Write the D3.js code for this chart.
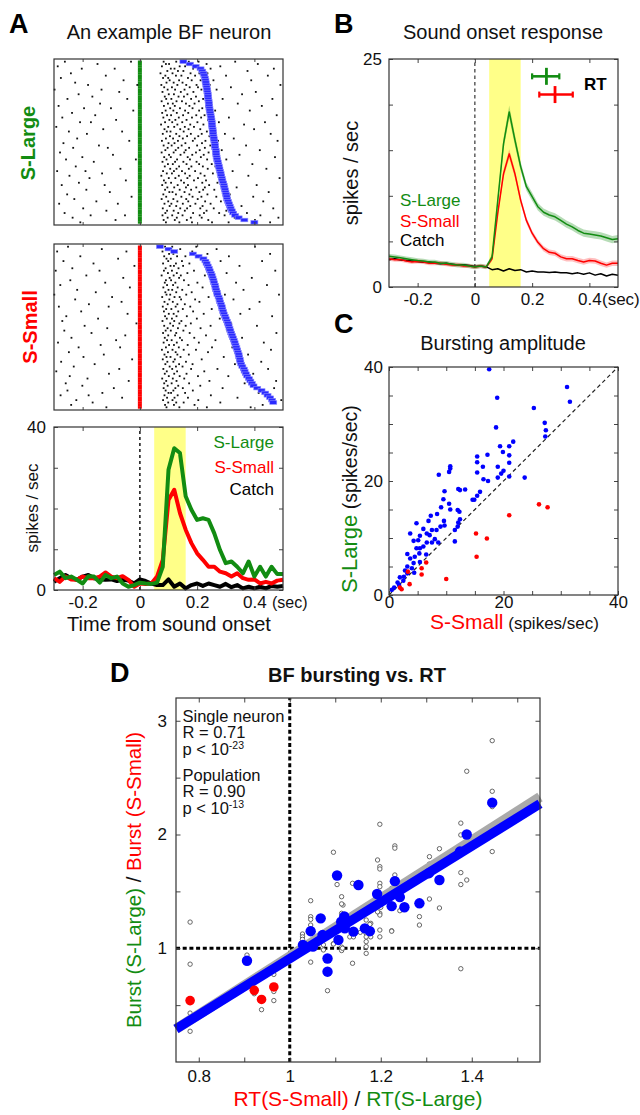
<!DOCTYPE html>
<html><head><meta charset="utf-8">
<script src="https://cdn.jsdelivr.net/npm/d3@7"></script>
<style>body{margin:0;background:#fff}svg{display:block}</style>
</head><body>
<svg id="c" width="640" height="1115"></svg>
<script>
// ---------------- DATA ----------------
const timeBins = [-0.3,-0.28,-0.26,-0.24,-0.22,-0.2,-0.18,-0.16,-0.14,-0.12,-0.1,-0.08,-0.06,-0.04,-0.02,0,0.02,0.04,0.06,0.08,0.1,0.12,0.14,0.16,0.18,0.2,0.22,0.24,0.26,0.28,0.3,0.32,0.34,0.36,0.38,0.4,0.42,0.44,0.46,0.48,0.5];
// Panel A PSTH (spikes/sec)
const psthA_large = [3.7,4.5,2.9,3.3,2.5,1.6,3.4,3.3,1.8,3.7,2.9,3.3,1.6,0.8,1.2,1.8,1.6,1.5,1.8,5.7,29.5,34.8,33.6,23,19.7,17.2,17.6,17.2,13.9,9.8,6.6,7.0,5.7,4.1,7.0,3.3,5.7,3.3,5.7,3.9,3.9];
const psthA_small = [2.9,2.0,3.3,2.6,2.5,3.3,2.9,2.9,3.3,4.3,3.3,2.9,3.4,2.5,0.8,1.6,1.5,1.6,3.3,7.4,22.1,24.6,18.9,14.8,11.5,9.0,7.4,5.7,5.7,4.5,4.1,3.3,4.1,2.9,2.5,2.6,1.6,2.0,1.6,2.3,2.5];
const psthA_catch = [2.0,2.9,3.7,2.9,2.5,3.3,3.7,2.9,2.6,2.5,2.6,2.2,2.5,2.3,1.6,2.6,2.2,1.6,1.2,1.2,2.6,0.8,1.6,0.4,1.2,1.6,1.0,1.6,1.2,0.8,1.5,0.7,1.2,0.4,0.8,0.4,0.8,0.4,1.0,0.8,1.0];
// Panel B population PSTH (spikes/sec) and SEM
const psthB_large = [3.37,3.3,3.2,3.1,3.0,2.9,2.85,2.75,2.75,2.6,2.6,2.5,2.4,2.4,2.3,2.2,2.3,2.2,3.3,9.5,15.7,19.2,16.1,13.2,11.0,9.9,8.8,8.2,7.9,7.7,7.3,6.9,6.6,6.2,5.9,5.8,5.7,5.6,5.4,5.2,5.3];
const psthB_small = [3.1,3.0,3.0,2.85,2.75,2.8,2.75,2.6,2.6,2.6,2.5,2.4,2.45,2.3,2.3,2.2,2.3,2.2,3.1,8.1,12.4,14.6,12.4,9.5,7.3,5.9,4.9,4.2,3.8,3.7,3.3,3.1,3.1,2.9,2.75,2.9,2.85,2.6,2.4,2.6,2.6];
const psthB_catch = [3.0,3.1,2.95,2.9,2.85,2.8,2.7,2.75,2.6,2.55,2.6,2.5,2.4,2.45,2.35,2.25,2.3,2.2,1.9,2.0,1.75,2.0,1.8,1.9,1.65,1.75,1.65,1.65,1.6,1.65,1.55,1.55,1.45,1.55,1.4,1.55,1.3,1.45,1.2,1.4,1.3];
const semB_large = [0.25,0.25,0.25,0.25,0.25,0.25,0.25,0.25,0.25,0.25,0.25,0.25,0.25,0.25,0.25,0.25,0.25,0.25,0.3,0.45,0.6,0.7,0.6,0.5,0.45,0.45,0.4,0.4,0.4,0.4,0.4,0.4,0.4,0.4,0.4,0.4,0.4,0.4,0.4,0.4,0.4];
const semB_small = [0.22,0.22,0.22,0.22,0.22,0.22,0.22,0.22,0.22,0.22,0.22,0.22,0.22,0.22,0.22,0.22,0.22,0.22,0.25,0.35,0.45,0.5,0.45,0.4,0.35,0.3,0.3,0.3,0.3,0.3,0.3,0.3,0.3,0.3,0.3,0.3,0.3,0.3,0.3,0.3,0.3];
// RT error bars in panel B (sec), drawn at a fixed height (spikes/sec units)
const rtNames = ["S-Large","S-Small"];
const rtMean = [0.25, 0.28];
const rtLo = [0.20, 0.225];
const rtHi = [0.295, 0.342];
const rtRow = [23.1, 21.1];
// Raster: spike times (ms) per trial, and sorted RT (sec)
const spikesLarge = [
[-262,-31,83,127,171,205,333],[-148,91,102,164,233,412],[-287,77,139,158,199,281],[-203,-88,108,121,186,247,468],
[96,133,152,219,376],[-241,72,114,177,208,236],[-119,89,126,145,193,301,447],[-276,81,99,168,224],
[-57,104,137,181,212,257,389],[-226,93,118,149,230],[-181,-9,75,131,162,198,244,491],[85,112,174,203,318],
[-298,-134,97,123,156,215,268],[-72,79,143,187,228,405],[-214,101,119,166,239,357],[-166,87,135,154,196],
[-253,-44,92,110,179,221,289,463],[76,128,147,206,249],[-139,98,115,161,191,342],[-284,84,122,173,232,426],
[-195,-101,106,140,184,218],[-23,90,117,158,207,263,384],[-237,78,129,169,245],[-156,95,109,151,197,226,478],
[-271,82,136,182,214,311],[-83,103,124,163,238],[-209,-171,88,113,148,201,276,437],[74,131,176,222,364],
[-292,99,120,157,189,252],[-128,86,141,170,211,399],[-248,-62,94,107,153,234],[-185,80,127,178,216,297,457],
[105,138,165,204,243],[-219,91,116,150,192,328],[-37,77,133,185,229,273,481],[-267,100,121,159,217],
[-143,83,111,146,200,246,371],[-233,-112,97,134,172,227],[89,125,160,209,286,419],[-279,76,118,155,196,240],
[-94,102,142,183,223,348],[-201,85,108,167,213,472],[-258,-14,93,130,175,235,302],[-161,79,123,152,198],
[98,115,163,207,251,393],[-224,87,137,180,220,264],[-68,106,128,171,237,442],[-289,-190,81,119,147,193,324],
[-132,94,112,158,212,255],[-246,75,136,174,226,379],[-176,101,124,166,203,292,488],[-49,84,144,189,231],
[-213,90,109,154,218,271],[-273,-123,78,132,168,242,408],[96,120,161,197,227,338],[-187,88,139,179,221,260],
[-105,103,114,156,208,450],[-254,82,126,173,236,314],[-29,92,145,184,215,267,396],[-229,76,117,162,202],
[-152,99,131,169,228,283,431],[-282,-77,86,110,150,194,247],[104,127,176,219,355],[-198,80,141,165,211,258,466],
[-117,95,118,157,233,302],[-263,89,134,186,224,277,374],[-172,-52,79,113,149,209,296,421],[-235,97,129,178,216,331,484],
[-85,83,122,164,239,361,402],[-208,91,138,182,252,310,455]];
const rtLarge = [0.152,0.175,0.195,0.212,0.218,0.222,0.225,0.227,0.229,0.23,0.232,0.233,0.235,0.236,0.237,0.238,0.239,0.24,0.241,0.242,0.243,0.244,0.246,0.247,0.249,0.25,0.251,0.252,0.253,0.254,0.255,0.256,0.257,0.258,0.26,0.261,0.262,0.263,0.265,0.266,0.267,0.268,0.27,0.272,0.274,0.276,0.278,0.28,0.282,0.284,0.286,0.288,0.291,0.293,0.295,0.297,0.299,0.301,0.303,0.305,0.308,0.311,0.314,0.317,0.321,0.326,0.333,0.345,0.365,0.40];
const spikesSmall = [
[-251,88,113,197,402],[-133,96,141,268],[-289,-47,79,122,183],[102,117,236,455],[-208,85,130,159,311],
[-76,93,108,214],[-267,99,147,282,427],[-162,81,126,173],[-19,107,119,151,348],[-236,90,135,245],
[-294,-141,84,112,189,473],[98,129,166,303],[-187,76,118,143,227],[-58,104,137,258,391],[-243,91,109,154],
[-121,87,124,201,336],[-278,95,116,170,444],[-35,82,132,219],[-219,100,113,148,275,362],[-154,89,127,181],
[-299,93,106,162,297,486],[-97,78,121,139,240],[-226,103,144,193,327],[-64,86,115,208,418],[-178,97,131,157],
[-283,-109,80,125,176,288],[92,110,150,251,383],[-205,84,134,186],[-43,101,118,223,351],[-257,88,128,164,462],
[-146,94,112,199,279],[-271,79,120,145],[-12,106,138,178,319],[-193,85,116,160,247,409],[-114,97,133,212],
[-264,90,108,152,306],[-169,81,127,174,477],[-51,99,123,231],[-239,87,140,190,357],[-83,95,111,147,264],
[-286,83,129,206,433],[-137,102,119,167],[-214,-69,91,136,252,323],[77,114,153,196,458],[-248,98,125,238],
[-126,86,131,171,378],[-197,93,107,142,293],[-27,80,122,216],[-275,96,117,161,424],[-158,89,137,184,332],
[-231,104,126,149],[-72,82,113,179,271,448],[-292,94,130,225],[-108,87,120,163,396],[-245,101,139,203,309],
[-183,78,115,155],[-39,92,128,243,476],[-259,85,111,172,366],[-201,97,134,211],[-91,83,124,150,289,469],
[-253,90,117,185],[-131,100,109,158,415],[-277,-179,86,132,248],[-62,95,121,168,341],[-222,81,114,204,494],
[-165,99,127,153,281],[-240,88,119,191,429],[-117,93,138,234,387]];
const rtSmall = [0.07,0.1,0.12,0.185,0.205,0.222,0.229,0.233,0.237,0.241,0.244,0.248,0.251,0.254,0.257,0.259,0.262,0.264,0.266,0.269,0.271,0.275,0.278,0.28,0.283,0.286,0.288,0.291,0.293,0.297,0.3,0.304,0.307,0.31,0.313,0.316,0.319,0.322,0.325,0.328,0.331,0.334,0.337,0.34,0.342,0.345,0.347,0.349,0.351,0.354,0.358,0.363,0.366,0.37,0.375,0.381,0.386,0.391,0.397,0.41,0.425,0.438,0.446,0.455,0.462,0.466];
// Panel C: bursting amplitude [S-Small, S-Large]
const burstBlue = [[17.5,39.6],[31.1,36.5],[31.6,33.9],[18.9,34.6],[25.3,32.8],[27.2,30.2],[27.4,28.9],[27.3,27.8],[18.7,29.4],[21.7,26.9],[21.0,26.1],[19.4,26.1],[19.9,25.1],[21.0,24.5],[17.2,24.6],[15.4,24.3],[15.4,23.3],[16.4,22.5],[15.4,21.5],[19.0,22.5],[20.0,21.8],[19.6,21.3],[19.0,20.6],[17.3,20.0],[16.5,20.3],[21.0,23.2],[21.0,20.8],[23.7,20.6],[10.7,22.6],[10.7,22.2],[10.5,21.6],[8.7,21.1],[15.4,17.4],[14.9,16.7],[14.6,16.7],[15.9,18.1],[12.1,18.6],[12.4,18.4],[13.3,18.5],[9.7,18.2],[9.5,16.8],[10.5,16.0],[9.1,15.4],[8.4,14.2],[10.7,15.0],[12.0,14.9],[12.3,14.6],[12.4,13.3],[12.1,12.7],[12.0,12.0],[11.5,11.4],[11.5,9.4],[9.6,13.0],[9.7,12.2],[9.0,12.0],[7.3,13.9],[6.9,13.0],[4.8,12.6],[6.0,11.6],[7.5,11.4],[8.3,11.4],[6.6,10.8],[5.4,10.4],[3.7,10.8],[4.3,9.5],[5.1,9.6],[7.1,10.5],[8.0,9.8],[8.6,9.2],[7.5,9.2],[6.6,9.2],[6.0,8.5],[5.4,8.2],[4.8,8.2],[5.3,7.3],[4.5,6.7],[3.7,6.4],[3.2,7.2],[4.3,5.6],[3.2,5.0],[4.0,4.7],[3.2,3.8],[4.4,3.9],[2.6,3.2],[1.9,3.1],[1.5,2.2],[0.9,1.3],[0.5,0.9],[1.75,1.75],[2.5,2.5],[5.4,5.8],[6.5,7.1],[2.8,4.3]];
const burstRed = [[26.2,15.9],[27.7,15.4],[21.0,14.0],[15.2,10.8],[17.1,9.9],[15.3,6.7],[10.0,2.8],[6.5,5.7],[5.7,4.7],[5.7,3.6],[3.3,4.1],[3.6,1.9],[1.9,1.3],[2.2,1.0]];
const diagLine = [0, 40];
// Panel D: [RT ratio, burst ratio]
const ratioGray = [[0.781,1.23],[0.781,0.86],[0.781,0.43],[0.781,0.27],[0.906,0.94],[0.922,0.60],[0.938,0.46],[0.965,0.77],[0.965,0.62],[0.965,0.54],[1.445,2.825],[1.389,2.556],[1.445,2.38],[1.445,2.245],[1.445,1.85],[1.376,2.10],[1.376,1.996],[1.376,1.665],[1.376,1.56],[1.389,1.60],[1.376,0.82],[1.329,1.875],[1.307,1.805],[1.307,1.74],[1.307,1.433],[1.329,1.354],[1.285,1.278],[1.285,1.204],[1.198,2.09],[1.231,1.90],[1.231,1.88],[1.193,1.776],[1.198,1.717],[1.198,1.697],[1.231,1.644],[1.224,1.527],[1.224,1.154],[1.242,1.33],[1.198,1.571],[1.198,1.541],[1.198,1.307],[1.198,1.292],[1.193,1.32],[1.198,1.16],[1.198,1.10],[1.178,1.219],[1.178,1.131],[1.168,1.248],[1.168,1.131],[1.168,1.058],[1.168,1.014],[1.168,0.955],[1.138,1.571],[1.104,1.56],[1.096,1.844],[1.114,1.453],[1.117,1.38],[1.114,1.39],[1.114,1.307],[1.114,1.277],[1.132,1.10],[1.14,1.10],[1.114,1.01],[1.114,0.98],[1.138,0.868],[1.096,1.04],[1.046,1.418],[1.046,1.277],[1.046,1.254],[1.046,1.204],[1.028,1.125],[1.028,1.10],[1.028,1.078],[1.074,1.03],[1.074,0.985],[1.083,1.10],[1.096,1.037],[1.116,1.0],[1.168,1.10],[1.178,1.10],[1.224,1.15],[1.046,0.878],[1.083,0.627],[1.2,1.36],[1.176,1.21],[1.155,1.14]];
const ratioBlue = [[0.906,0.89],[1.104,1.64],[1.151,1.556],[1.192,1.477],[1.231,1.59],[1.242,1.45],[1.252,1.36],[1.224,1.37],[1.068,1.263],[1.046,1.15],[1.072,1.116],[1.029,1.03],[1.051,1.014],[1.113,1.233],[1.121,1.175],[1.14,1.146],[1.107,1.073],[1.165,1.175],[1.176,1.15],[1.083,0.91],[1.083,0.794],[1.285,1.395],[1.329,1.60],[1.389,2.0],[1.445,2.28],[1.374,1.85],[1.306,1.66],[1.117,1.23],[1.12,1.28]];
const ratioRed = [[0.781,0.54],[0.922,0.63],[0.938,0.55],[0.965,0.66]];
const fitX = [0.75, 1.55];
const fitY = [0.29, 2.27];
const fitUpperY = [0.29, 2.33];
// tick values / labels
const timeTicks = [-0.2, 0, 0.2, 0.4];
const aYTicks = [0,10,20,30,40], aYLabels = [0,40];
const bYTicks = [0,5,10,15,20,25], bYLabels = [0,25];
const cTicks = [0,5,10,15,20,25,30,35,40], cLabels = [0,20,40];
const dXTicks = [0.8,0.9,1,1.1,1.2,1.3,1.4,1.5], dXLabels = [0.8,1,1.2,1.4];
const dYTicks = [0.5,1,1.5,2,2.5,3], dYLabels = [1,2,3];

// ---------------- DRAWING ----------------
const FONT = '"Liberation Sans", Arial, Helvetica, sans-serif';
const GREEN = "#128c12", RED = "#ff0000", BLUE = "#0000ff", YELLOW = "#ffff88";
const svg = d3.select("#c").style("font-family", FONT);

function txt(x, y, s, o = {}) {
  return svg.append("text").attr("x", x).attr("y", y).text(s)
    .attr("font-size", o.fs || 17).attr("fill", o.fill || "#111")
    .attr("text-anchor", o.anchor || "start")
    .attr("font-weight", o.bold ? "bold" : "normal");
}
function rotText(x, y, parts, anchor) {
  const t = svg.append("text").attr("transform", `translate(${x},${y}) rotate(-90)`)
    .attr("text-anchor", anchor || "middle");
  parts.forEach(p => t.append("tspan").text(p.s).attr("fill", p.fill || "#111")
    .attr("font-size", p.fs).attr("font-weight", p.bold ? "bold" : "normal"));
  return t;
}
function axesBox(g, xs, ys, o) {
  const [x0, x1] = xs.range();
  const [y1, y0] = ys.range();
  const lab = arr => d => arr.includes(d) ? String(d) : "";
  const none = () => "";
  const ts = o.ts || 4;
  g.append("g").attr("transform", `translate(0,${y1})`)
    .call(d3.axisBottom(xs).tickValues(o.xt).tickSize(-ts).tickPadding(o.xp).tickFormat(o.xl ? lab(o.xl) : none));
  g.append("g").attr("transform", `translate(0,${y0})`)
    .call(d3.axisTop(xs).tickValues(o.xt).tickSize(-ts).tickFormat(none));
  if (o.yt) {
    g.append("g").attr("transform", `translate(${x0},0)`)
      .call(d3.axisLeft(ys).tickValues(o.yt).tickSize(-ts).tickPadding(o.yp).tickFormat(o.yl ? lab(o.yl) : none));
    g.append("g").attr("transform", `translate(${x1},0)`)
      .call(d3.axisRight(ys).tickValues(o.yt).tickSize(-ts).tickFormat(none));
  }
  g.selectAll(".domain").remove();
  g.selectAll(".tick line").attr("stroke", "#444");
  g.selectAll(".tick text").attr("font-size", o.fs || 17).attr("fill", "#111").attr("font-family", FONT);
  g.append("rect").attr("x", x0).attr("y", y0).attr("width", x1 - x0).attr("height", y1 - y0)
    .attr("fill", "none").attr("stroke", "#333").attr("stroke-width", 1.2);
}

// Panel letters & titles
txt(9, 33, "A", {fs: 27, bold: true, fill: "#000"});
txt(334, 33, "B", {fs: 27, bold: true, fill: "#000"});
txt(334, 333, "C", {fs: 27, bold: true, fill: "#000"});
txt(110, 682, "D", {fs: 27, bold: true, fill: "#000"});
txt(169, 39, "An example BF neuron", {fs: 20, anchor: "middle"});
txt(503, 39, "Sound onset response", {fs: 20, anchor: "middle"});
txt(503, 350, "Bursting amplitude", {fs: 20, anchor: "middle"});
txt(357, 682, "BF bursting vs. RT", {fs: 20, anchor: "middle", bold: true});

// ---------- Panel A rasters ----------
function raster(top, bottom, spikes, rts, color, nTrials) {
  const g = svg.append("g");
  const xs = d3.scaleLinear().domain([-0.3, 0.5]).range([54, 283]);
  const ys = d3.scaleLinear().domain([0, nTrials]).range([top + 1.5, bottom - 1.5]);
  const step = ys(1) - ys(0);
  g.selectAll(".on").data(d3.range(nTrials)).join("rect")
    .attr("x", xs(0) - 2).attr("y", i => ys(i)).attr("width", 4).attr("height", step + 0.2)
    .attr("fill", color);
  const flat = [];
  spikes.forEach((row, i) => row.forEach(ms => flat.push({i, t: ms / 1000})));
  g.selectAll(".sp").data(flat).join("rect")
    .attr("x", d => xs(d.t) - 0.9).attr("y", d => ys(d.i + 0.5) - 0.9)
    .attr("width", 1.8).attr("height", 1.8).attr("fill", "#111");
  g.selectAll(".rt").data(rts).join("rect")
    .attr("x", d => xs(d) - 3.5).attr("y", (d, i) => ys(i + 0.5) - 1.8)
    .attr("width", 7).attr("height", 3.6).attr("fill", "#2a2aff")
    .attr("stroke", "#8a8aff").attr("stroke-width", 0.6);
  const ysBox = d3.scaleLinear().domain([0, 1]).range([bottom, top]);
  axesBox(g, xs, ysBox, {xt: timeTicks, xp: 4, ts: 3});
}
raster(59, 225, spikesLarge, rtLarge, GREEN, spikesLarge.length);
raster(244, 410, spikesSmall, rtSmall, RED, spikesSmall.length);
rotText(35, 143, [{s: "S-Large", fill: GREEN, fs: 20, bold: true}]);
rotText(37, 327, [{s: "S-Small", fill: RED, fs: 20, bold: true}]);

// ---------- Panel A PSTH ----------
{
  const g = svg.append("g");
  const xs = d3.scaleLinear().domain([-0.3, 0.5]).range([54, 283]);
  const ys = d3.scaleLinear().domain([0, 40]).range([590, 427]);
  g.append("rect").attr("x", xs(0.05)).attr("y", ys(40)).attr("width", xs(0.16) - xs(0.05))
    .attr("height", ys(0) - ys(40)).attr("fill", YELLOW);
  g.append("line").attr("x1", xs(0)).attr("x2", xs(0)).attr("y1", ys(0)).attr("y2", ys(40))
    .attr("stroke", "#222").attr("stroke-width", 1.6).attr("stroke-dasharray", "3,3");
  const line = d3.line().x((d, i) => xs(timeBins[i])).y(d => ys(d));
  [[psthA_catch, "#000"], [psthA_small, RED], [psthA_large, GREEN]].forEach(([arr, c]) =>
    g.append("path").datum(arr).attr("d", line).attr("fill", "none").attr("stroke", c)
      .attr("stroke-width", 4).attr("stroke-linejoin", "round"));
  axesBox(g, xs, ys, {xt: timeTicks, xl: timeTicks, xp: 6, yt: aYTicks, yl: aYLabels, yp: 8});
  txt(272, 608, "(sec)", {fs: 16});
  txt(169, 631, "Time from sound onset", {fs: 20, anchor: "middle"});
  rotText(38, 508, [{s: "spikes / sec", fs: 17}]);
  txt(274, 448, "S-Large", {fs: 17, fill: GREEN, anchor: "end"});
  txt(274, 473, "S-Small", {fs: 17, fill: RED, anchor: "end"});
  txt(274, 495, "Catch", {fs: 17, fill: "#000", anchor: "end"});
}

// ---------- Panel B ----------
{
  const g = svg.append("g");
  const xs = d3.scaleLinear().domain([-0.3, 0.5]).range([389, 618]);
  const ys = d3.scaleLinear().domain([0, 25]).range([287, 59]);
  g.append("rect").attr("x", xs(0.05)).attr("y", ys(25)).attr("width", xs(0.16) - xs(0.05))
    .attr("height", ys(0) - ys(25)).attr("fill", YELLOW);
  g.append("line").attr("x1", xs(0)).attr("x2", xs(0)).attr("y1", ys(0)).attr("y2", ys(25))
    .attr("stroke", "#222").attr("stroke-width", 1.1).attr("stroke-dasharray", "3.5,3");
  const area = sem => d3.area().x((d, i) => xs(timeBins[i])).y0((d, i) => ys(d - sem[i])).y1((d, i) => ys(d + sem[i]));
  g.append("path").datum(psthB_large).attr("d", area(semB_large)).attr("fill", GREEN).attr("opacity", 0.3);
  g.append("path").datum(psthB_small).attr("d", area(semB_small)).attr("fill", RED).attr("opacity", 0.25);
  const line = d3.line().x((d, i) => xs(timeBins[i])).y(d => ys(d));
  [[psthB_catch, "#000"], [psthB_small, RED], [psthB_large, GREEN]].forEach(([arr, c]) =>
    g.append("path").datum(arr).attr("d", line).attr("fill", "none").attr("stroke", c)
      .attr("stroke-width", 1.5).attr("stroke-linejoin", "round"));
  const cols = [GREEN, RED];
  rtMean.forEach((m, i) => {
    const y = ys(rtRow[i]), c = cols[i];
    g.append("line").attr("x1", xs(rtLo[i])).attr("x2", xs(rtHi[i])).attr("y1", y).attr("y2", y).attr("stroke", c).attr("stroke-width", 2.6);
    [rtLo[i], rtHi[i]].forEach(v => g.append("line").attr("x1", xs(v)).attr("x2", xs(v)).attr("y1", y - 3).attr("y2", y + 3).attr("stroke", c).attr("stroke-width", 2.2));
    g.append("line").attr("x1", xs(m)).attr("x2", xs(m)).attr("y1", y - 8.5).attr("y2", y + 8.5).attr("stroke", c).attr("stroke-width", 2.8);
  });
  axesBox(g, xs, ys, {xt: timeTicks, xl: timeTicks, xp: 6, yt: bYTicks, yl: bYLabels, yp: 7});
  txt(602, 305, "(sec)", {fs: 17});
  txt(584, 90, "RT", {fs: 17, bold: true, fill: "#000"});
  txt(400, 206, "S-Large", {fs: 17, fill: GREEN});
  txt(400, 227, "S-Small", {fs: 17, fill: RED});
  txt(400, 246, "Catch", {fs: 17, fill: "#000"});
  rotText(358, 173, [{s: "spikes / sec", fs: 20}]);
}

// ---------- Panel C ----------
{
  const g = svg.append("g");
  const xs = d3.scaleLinear().domain([0, 40]).range([389, 618]);
  const ys = d3.scaleLinear().domain([0, 40]).range([595, 367]);
  g.append("line").attr("x1", xs(diagLine[0])).attr("y1", ys(diagLine[0]))
    .attr("x2", xs(diagLine[1])).attr("y2", ys(diagLine[1]))
    .attr("stroke", "#222").attr("stroke-width", 1.2).attr("stroke-dasharray", "4,3");
  g.selectAll(".bb").data(burstBlue).join("circle").attr("cx", d => xs(d[0])).attr("cy", d => ys(d[1]))
    .attr("r", 2.3).attr("fill", BLUE);
  g.selectAll(".br").data(burstRed).join("circle").attr("cx", d => xs(d[0])).attr("cy", d => ys(d[1]))
    .attr("r", 2.3).attr("fill", RED);
  axesBox(g, xs, ys, {xt: cTicks, xl: cLabels, xp: 1, yt: cTicks, yl: cLabels, yp: 6});
  const xl = svg.append("text").attr("x", 430).attr("y", 629);
  xl.append("tspan").text("S-Small").attr("fill", RED).attr("font-size", 21);
  xl.append("tspan").text(" (spikes/sec)").attr("fill", "#111").attr("font-size", 17);
  rotText(357, 593, [{s: "S-Large", fill: GREEN, fs: 22}, {s: " (spikes/sec)", fs: 19.5}], "start");
}

// ---------- Panel D ----------
{
  const g = svg.append("g");
  const xs = d3.scaleLinear().domain([0.75, 1.55]).range([176, 540]);
  const ys = d3.scaleLinear().domain([0, 3.2]).range([1062, 698]);
  g.append("line").attr("x1", xs(1)).attr("x2", xs(1)).attr("y1", ys(0)).attr("y2", ys(3.2))
    .attr("stroke", "#000").attr("stroke-width", 3).attr("stroke-dasharray", "4,2.7");
  g.append("line").attr("x1", xs(0.75)).attr("x2", xs(1.55)).attr("y1", ys(1)).attr("y2", ys(1))
    .attr("stroke", "#000").attr("stroke-width", 3).attr("stroke-dasharray", "4,2.7");
  g.selectAll(".gc").data(ratioGray).join("circle").attr("cx", d => xs(d[0])).attr("cy", d => ys(d[1]))
    .attr("r", 2.2).attr("fill", "#fff").attr("stroke", "#666").attr("stroke-width", 1);
  g.append("line").attr("x1", xs(fitX[0])).attr("x2", xs(fitX[1])).attr("y1", ys(fitUpperY[0])).attr("y2", ys(fitUpperY[1]))
    .attr("stroke", "#aaa").attr("stroke-width", 10);
  g.append("line").attr("x1", xs(fitX[0])).attr("x2", xs(fitX[1])).attr("y1", ys(fitY[0])).attr("y2", ys(fitY[1]))
    .attr("stroke", BLUE).attr("stroke-width", 9.5);
  g.selectAll(".bc").data(ratioBlue).join("circle").attr("cx", d => xs(d[0])).attr("cy", d => ys(d[1]))
    .attr("r", 5.2).attr("fill", BLUE);
  g.selectAll(".rc").data(ratioRed).join("circle").attr("cx", d => xs(d[0])).attr("cy", d => ys(d[1]))
    .attr("r", 4.8).attr("fill", RED);
  axesBox(g, xs, ys, {xt: dXTicks, xl: dXLabels, xp: 8, yt: dYTicks, yl: dYLabels, yp: 9, ts: 4.5});
  const lines = [["Single neuron", 722, null], ["R = 0.71", 738, null], ["p < 10", 755, "-23"],
                 ["Population", 781, null], ["R = 0.90", 797, null], ["p < 10", 814, "-13"]];
  lines.forEach(([s, y, sup]) => {
    const t = svg.append("text").attr("x", 182.5).attr("y", y).attr("font-size", 16.5).attr("fill", "#111").text(s);
    if (sup) t.append("tspan").text(sup).attr("font-size", 10.5).attr("dy", -6);
  });
  const xl = svg.append("text").attr("x", 358).attr("y", 1106).attr("text-anchor", "middle").attr("font-size", 21);
  xl.append("tspan").text("RT(S-Small)").attr("fill", RED);
  xl.append("tspan").text(" / ").attr("fill", "#111");
  xl.append("tspan").text("RT(S-Large)").attr("fill", GREEN);
  rotText(141, 880, [{s: "Burst (S-Large)", fill: GREEN, fs: 20.5}, {s: " / ", fs: 20.5}, {s: "Burst (S-Small)", fill: RED, fs: 20.5}]);
}
</script>
</body></html>
